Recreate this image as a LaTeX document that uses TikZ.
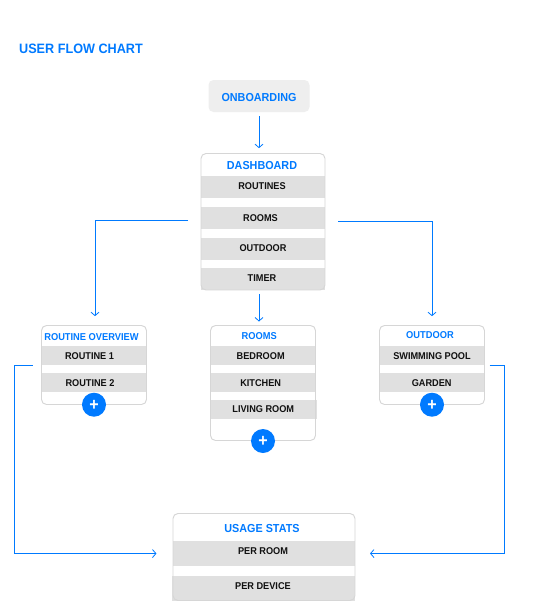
\documentclass[tikz,border=0pt]{standalone}
\usepackage{fontspec}
\setmainfont[FakeStretch=0.93]{Liberation Sans}
\usetikzlibrary{arrows.meta}
\definecolor{flowblue}{HTML}{007AFF}
\definecolor{rowgray}{HTML}{E0E0E0}
\definecolor{boxedge}{HTML}{D6D6D6}
\definecolor{introgray}{HTML}{EEEEEE}
\definecolor{inktext}{HTML}{111111}
\tikzset{
  txt/.style={inner sep=0pt,outer sep=0pt,yshift=0.75pt,text depth=0pt,text height=0.72em,font=\bfseries\fontsize{7.4pt}{8pt}\selectfont,text=inktext},
  heading/.style={txt,yshift=-0.75pt,text=flowblue,font=\bfseries\fontsize{8.7pt}{9pt}\selectfont},
  subheading/.style={txt,text=flowblue,font=\bfseries\fontsize{7.5pt}{8pt}\selectfont},
  cardbox/.style={rectangle,rounded corners=3.75pt,fill=white,inner sep=0pt,outer sep=0pt},
  cardedge/.style={draw=boxedge,line width=0.7pt,rounded corners=3.75pt},
  rowfill/.style={fill=rowgray},
  plusdot/.style={circle,fill=flowblue,minimum size=18pt,inner sep=0pt,outer sep=0pt,text=white,text height=8.8pt,text depth=0pt,font=\bfseries\fontsize{13pt}{13pt}\selectfont},
  flow/.style={draw=flowblue,line width=0.75pt},
  flowarrow/.style={flow,-{Straight Barb[length=2.6pt,width=6pt,line width=0.6pt]}}
}
\begin{document}
\begin{tikzpicture}[x=0.75pt,y=-0.75pt]
\useasboundingbox (0,0) rectangle (550,615);
\fill[white] (0,0) rectangle (550,615);

\node[txt,yshift=-0.75pt,text=flowblue,font=\bfseries\fontsize{10.2pt}{11pt}\selectfont] (title) at (81,49) {USER FLOW CHART};

% onboarding
\node[rectangle,rounded corners=3.75pt,fill=introgray,minimum width=75.75pt,minimum height=24pt,inner sep=0pt,outer sep=0pt] (onb) at (259,96) {};
\node[heading] (onbt) at (259,97) {ONBOARDING};

% dashboard
\node[cardbox,minimum width=93pt,minimum height=102.4pt] (dash) at (263,221.75) {};
\fill[rowfill] (201,176) rectangle (325,198);
\fill[rowfill] (201,207) rectangle (325,229);
\fill[rowfill] (201,238) rectangle (325,260);
\fill[rowfill] (201,268) rectangle (325,290);
\draw[cardedge] (dash.north west) rectangle (dash.south east);
\node[heading] (dasht) at (262,165) {DASHBOARD};
\node[txt] (d1) at (262,185.5) {ROUTINES};
\node[txt] (d2) at (260.5,218) {ROOMS};
\node[txt] (d3) at (263,248) {OUTDOOR};
\node[txt] (d4) at (262,277.5) {TIMER};

% routine overview
\node[cardbox,minimum width=78.75pt,minimum height=59.25pt] (ov) at (94,365) {};
\fill[rowfill] (41.5,346) rectangle (146.5,365);
\fill[rowfill] (41.5,373) rectangle (146.5,392);
\draw[cardedge] (ov.north west) rectangle (ov.south east);
\node[subheading] (ovt) at (91.5,336.3) {ROUTINE OVERVIEW};
\node[txt] (o1) at (89.5,355.7) {ROUTINE 1};
\node[txt] (o2) at (90,382.7) {ROUTINE 2};
\node[plusdot] (oplus) at (94,404.7) {+};

% rooms
\node[cardbox,minimum width=78.75pt,minimum height=86.25pt] (rm) at (263,383) {};
\fill[rowfill] (210.5,346) rectangle (315.5,365);
\fill[rowfill] (210.5,373) rectangle (315.5,392);
\fill[rowfill] (210.5,400) rectangle (317,419);
\draw[cardedge] (rm.north west) rectangle (rm.south east);
\node[subheading] (rmt) at (259.3,335.7) {ROOMS};
\node[txt] (r1) at (260.7,355.7) {BEDROOM};
\node[txt] (r2) at (260.7,382.7) {KITCHEN};
\node[txt] (r3) at (263.3,408.7) {LIVING ROOM};
\node[plusdot] (rplus) at (263,441) {+};

% outdoor
\node[cardbox,minimum width=78.75pt,minimum height=59.25pt] (od) at (432,365) {};
\fill[rowfill] (379.5,346) rectangle (484.5,365);
\fill[rowfill] (379.5,373) rectangle (484.5,392);
\draw[cardedge] (od.north west) rectangle (od.south east);
\node[subheading] (odt) at (430,334.3) {OUTDOOR};
\node[txt] (u1) at (432,355.7) {SWIMMING POOL};
\node[txt] (u2) at (431.7,382.7) {GARDEN};
\node[plusdot] (uplus) at (432,404.7) {+};

% usage stats
\node[cardbox,minimum width=136.5pt,minimum height=65.25pt] (us) at (264,557) {};
\fill[rowfill] (173,541) rectangle (355,566);
\fill[rowfill] (172,576) rectangle (355,600.5);
\draw[cardedge] (us.north west) rectangle (us.south east);
\node[heading] (ust) at (262,528) {USAGE STATS};
\node[txt] (s1) at (263,551) {PER ROOM};
\node[txt] (s2) at (263,585.5) {PER DEVICE};

% connectors
\coordinate (leftrail) at (14.5,460);
\coordinate (rightrail) at (504.5,460);
\draw[flowarrow,shorten <=3pt,shorten >=4pt] (onb.south) -- (onb.south |- dash.north);
\draw[flowarrow,shorten <=3pt,shorten >=3pt] (onb.south |- dash.south) -- (onb.south |- rm.north);
\draw[flowarrow,shorten <=9.75pt,shorten >=7pt] ([yshift=1.1pt]dash.west) -| ([xshift=0.75pt]ov.north);
\draw[flowarrow,shorten <=9.75pt,shorten >=7pt] (dash.east) -| (od.north);
\draw[flowarrow,shorten <=6.4pt,shorten >=12.4pt] (ov.west) -| (leftrail) |- ([yshift=2.6pt]us.west);
\draw[flowarrow,shorten <=3.75pt,shorten >=11.25pt] (od.east) -| (rightrail) |- ([yshift=2.6pt]us.east);
\end{tikzpicture}
\end{document}
